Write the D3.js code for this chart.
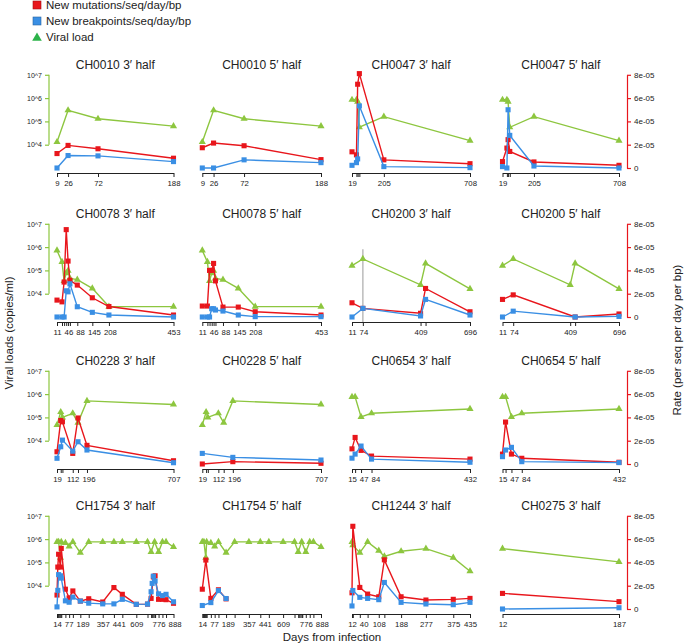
<!DOCTYPE html>
<html>
<head>
<meta charset="utf-8">
<script src="https://cdn.jsdelivr.net/npm/d3@7"></script>
<style>
body { margin: 0; background: #fff; }
text { font-family: "Liberation Sans", Arial, sans-serif; fill: #222; }
</style>
</head>
<body>
<div id="container"></div>
<script>
// viral loads (copies/ml) per patient, shared by both halves
const vl_CH0010 = [[9, 1.3e4], [26, 3.0e5], [72, 1.3e5], [188, 6.3e4]];
const vl_CH0047 = [[19, 8.5e5], [45, 8.5e5], [52, 7.0e5], [62, 5.6e4], [205, 1.6e5], [708, 1.5e4]];
const vl_CH0078 = [[11, 7.2e5], [30, 2.3e5], [38, 3.5e4], [46, 7.6e4], [53, 9.8e4], [60, 4.5e4], [88, 4.0e4], [145, 1.7e4], [208, 2.8e3], [453, 2.8e3]];
const vl_CH0200 = [[11, 1.6e5], [74, 3.1e5], [409, 2.4e4], [438, 2.0e5], [696, 1.6e4]];
const vl_CH0228 = [[19, 4.7e4], [41, 1.7e5], [51, 1.0e5], [112, 1.5e5], [143, 6.0e4], [196, 5.1e5], [707, 3.6e5]];
const vl_CH0654 = [[15, 7.6e5], [26, 7.6e5], [47, 1.05e5], [84, 1.5e5], [432, 2.3e5]];
const vl_CH1754 = [[14, 7.6e5], [26, 7.6e5], [40, 1.6e5], [46, 7.6e5], [77, 6.9e5], [105, 4.9e5], [133, 7.6e5], [189, 2.6e5], [252, 7.6e5], [357, 7.6e5], [441, 7.6e5], [504, 7.6e5], [609, 7.6e5], [693, 7.6e5], [720, 2.8e5], [746, 7.6e5], [776, 2.8e5], [805, 7.6e5], [832, 7.6e5], [888, 4.6e5]];
const vl_CH1244 = [[12, 7.6e5], [15, 5.5e5], [40, 2.6e5], [68, 7.6e5], [108, 3.2e5], [128, 1.8e5], [188, 3.0e5], [277, 3.9e5], [375, 1.6e5], [435, 4.2e4]];
const vl_CH0275 = [[12, 3.9e5], [187, 1.05e5]];

// new mutations / new breakpoints per seq per day per bp
const mut_CH0010_3 = [[9, 1.24e-5], [26, 1.94e-5], [72, 1.65e-5], [188, 0.84e-5]];
const bp_CH0010_3 = [[9, 0], [26, 1.07e-5], [72, 1.04e-5], [188, 0.55e-5]];
const mut_CH0010_5 = [[9, 1.74e-5], [26, 2.14e-5], [72, 1.91e-5], [188, 0.72e-5]];
const bp_CH0010_5 = [[9, 0], [26, 0], [72, 0.70e-5], [188, 0.46e-5]];

const mut_CH0047_3 = [[19, 1.39e-5], [45, 1.13e-5], [52, 7.19e-5], [62, 8.1e-5], [205, 0.70e-5], [708, 0.37e-5]];
const bp_CH0047_3 = [[19, 0.23e-5], [45, 0.46e-5], [52, 0.78e-5], [62, 5.33e-5], [205, 0.12e-5], [708, 0.03e-5]];
const mut_CH0047_5 = [[19, 0.55e-5], [45, 1.71e-5], [52, 2.43e-5], [62, 1.42e-5], [205, 0.52e-5], [708, 0.23e-5]];
const bp_CH0047_5 = [[19, 0.12e-5], [45, 0], [52, 5.0e-5], [62, 2.8e-5], [205, 0.17e-5], [708, 0]];

const mut_CH0078_3 = [[11, 1.45e-5], [30, 1.3e-5], [38, 3.0e-5], [46, 7.5e-5], [53, 4.8e-5], [60, 3.15e-5], [88, 2.74e-5], [145, 1.65e-5], [208, 0.9e-5], [453, 0.17e-5]];
const bp_CH0078_3 = [[11, 0], [30, 0], [38, 0], [46, 2.25e-5], [53, 2.16e-5], [60, 2.85e-5], [88, 0.88e-5], [145, 0.4e-5], [208, 0.17e-5], [453, 0]];
const mut_CH0078_5 = [[11, 0.94e-5], [30, 0.94e-5], [38, 4.0e-5], [46, 4.0e-5], [53, 4.6e-5], [60, 3.1e-5], [88, 0.85e-5], [145, 0.85e-5], [208, 0.45e-5], [453, 0.17e-5]];
const bp_CH0078_5 = [[11, 0], [30, 0], [38, 0], [46, 0.71e-5], [53, 0.71e-5], [60, 0.6e-5], [88, 0.51e-5], [145, 0.17e-5], [208, 0.03e-5], [453, 0.03e-5]];

const mut_CH0200_3 = [[11, 1.22e-5], [74, 0.74e-5], [409, 0.32e-5], [438, 2.45e-5], [696, 0.45e-5]];
const bp_CH0200_3 = [[11, 0], [74, 0.74e-5], [409, 0.09e-5], [438, 1.51e-5], [696, 0.17e-5]];
const mut_CH0200_5 = [[11, 1.51e-5], [74, 1.9e-5], [438, 0], [696, 0.26e-5]];
const bp_CH0200_5 = [[11, 0], [74, 0.5e-5], [438, 0], [696, 0.05e-5]];

const mut_CH0228_3 = [[19, 1.05e-5], [41, 3.73e-5], [51, 3.62e-5], [112, 0.91e-5], [143, 3.95e-5], [196, 1.6e-5], [707, 0.28e-5]];
const bp_CH0228_3 = [[19, 0.49e-5], [41, 1.48e-5], [51, 2.05e-5], [112, 1.1e-5], [143, 1.91e-5], [196, 1.2e-5], [707, 0.11e-5]];
const mut_CH0228_5 = [[19, 0], [196, 0.2e-5], [707, 0.06e-5]];
const bp_CH0228_5 = [[19, 0.91e-5], [196, 0.57e-5], [707, 0.34e-5]];

const mut_CH0654_3 = [[15, 1.3e-5], [26, 2.28e-5], [47, 1.17e-5], [84, 0.68e-5], [432, 0.42e-5]];
const bp_CH0654_3 = [[15, 0.5e-5], [26, 0.85e-5], [47, 1.54e-5], [84, 0.42e-5], [432, 0.15e-5]];
const mut_CH0654_5 = [[15, 0.85e-5], [26, 3.6e-5], [47, 0.85e-5], [84, 0.49e-5], [432, 0.15e-5]];
const bp_CH0654_5 = [[15, 0.63e-5], [26, 1.2e-5], [47, 1.43e-5], [84, 0.2e-5], [432, 0.12e-5]];

const mut_CH1754_3 = [[14, 1.2e-5], [20, 3.6e-5], [26, 4.7e-5], [40, 3.6e-5], [46, 5.2e-5], [77, 1.7e-5], [105, 0.95e-5], [133, 1.55e-5], [189, 0.68e-5], [252, 0.88e-5], [357, 0.6e-5], [441, 1.84e-5], [504, 1.26e-5], [609, 0.4e-5], [693, 0.42e-5], [720, 0.91e-5], [737, 2.75e-5], [750, 2.85e-5], [776, 0.83e-5], [805, 0.83e-5], [832, 0.8e-5], [888, 0.49e-5]];
const bp_CH1754_3 = [[14, 0.18e-5], [20, 1.6e-5], [26, 2.95e-5], [40, 2.85e-5], [46, 2.65e-5], [77, 0.7e-5], [105, 0.58e-5], [133, 1.02e-5], [189, 0.68e-5], [252, 0.5e-5], [357, 0.44e-5], [441, 0.44e-5], [504, 0.83e-5], [609, 0.4e-5], [693, 0.42e-5], [720, 1.48e-5], [728, 2.2e-5], [737, 2.82e-5], [750, 2.4e-5], [776, 1.3e-5], [805, 1.15e-5], [832, 1.26e-5], [888, 0.62e-5]];
const mut_CH1754_5 = [[14, 1.7e-5], [40, 4.2e-5], [77, 0.91e-5], [133, 1.65e-5], [189, 0.87e-5]];
const bp_CH1754_5 = [[14, 0.3e-5], [77, 0.55e-5], [133, 1.58e-5], [189, 0.9e-5]];

const mut_CH1244_3 = [[12, 1.39e-5], [15, 7.1e-5], [40, 1.85e-5], [68, 1.28e-5], [108, 1.05e-5], [128, 4.22e-5], [188, 1.05e-5], [277, 0.77e-5], [375, 0.83e-5], [435, 0.91e-5]];
const bp_CH1244_3 = [[12, 0.26e-5], [15, 1.59e-5], [40, 1.0e-5], [68, 0.91e-5], [108, 0.8e-5], [128, 2.28e-5], [188, 0.57e-5], [277, 0.43e-5], [375, 0.37e-5], [435, 0.57e-5]];

const mut_CH0275_3 = [[12, 1.34e-5], [187, 0.63e-5]];
const bp_CH0275_3 = [[12, 0], [187, 0.11e-5]];

// sampling days on the x axis, and the ones that got a label
const ticks_CH0010 = [9, 26, 72, 188];
const labels_CH0010 = [9, 26, 72, 188];
const ticks_CH0047 = [19, 45, 52, 62, 205, 708];
const labels_CH0047 = [19, 205, 708];
const ticks_CH0078 = [11, 30, 38, 46, 53, 60, 88, 145, 208, 453];
const labels_CH0078 = [11, 46, 88, 145, 208, 453];
const ticks_CH0200 = [11, 74, 409, 438, 696];
const labels_CH0200 = [11, 74, 409, 696];
const ticks_CH0228 = [19, 41, 51, 112, 143, 196, 707];
const labels_CH0228 = [19, 112, 196, 707];
const ticks_CH0654 = [15, 26, 47, 84, 432];
const labels_CH0654 = [15, 47, 84, 432];
const ticks_CH1754 = [14, 20, 26, 33, 40, 46, 77, 105, 133, 189, 252, 357, 441, 504, 609, 693, 720, 728, 737, 746, 750, 776, 805, 832, 888];
const labels_CH1754 = [14, 77, 189, 357, 441, 609, 776, 888];
const ticks_CH1244 = [12, 15, 40, 68, 108, 128, 188, 277, 375, 435];
const labels_CH1244 = [12, 40, 108, 188, 277, 375, 435];
const ticks_CH0275 = [12, 187];
const labels_CH0275 = [12, 187];

const ch0200Marker = 74;   // grey vertical line in CH0200 3' half
const vlTicks = [1e4, 1e5, 1e6, 1e7];
const rateTicks = [0, 2e-5, 4e-5, 6e-5, 8e-5];

const panels = [
	{ title: 'CH0010 3\u2032 half', vl: vl_CH0010, mut: mut_CH0010_3, bp: bp_CH0010_3, ticks: ticks_CH0010, labels: labels_CH0010 },
	{ title: 'CH0010 5\u2032 half', vl: vl_CH0010, mut: mut_CH0010_5, bp: bp_CH0010_5, ticks: ticks_CH0010, labels: labels_CH0010 },
	{ title: 'CH0047 3\u2032 half', vl: vl_CH0047, mut: mut_CH0047_3, bp: bp_CH0047_3, ticks: ticks_CH0047, labels: labels_CH0047 },
	{ title: 'CH0047 5\u2032 half', vl: vl_CH0047, mut: mut_CH0047_5, bp: bp_CH0047_5, ticks: ticks_CH0047, labels: labels_CH0047 },
	{ title: 'CH0078 3\u2032 half', vl: vl_CH0078, mut: mut_CH0078_3, bp: bp_CH0078_3, ticks: ticks_CH0078, labels: labels_CH0078 },
	{ title: 'CH0078 5\u2032 half', vl: vl_CH0078, mut: mut_CH0078_5, bp: bp_CH0078_5, ticks: ticks_CH0078, labels: labels_CH0078 },
	{ title: 'CH0200 3\u2032 half', vl: vl_CH0200, mut: mut_CH0200_3, bp: bp_CH0200_3, ticks: ticks_CH0200, labels: labels_CH0200, marker: ch0200Marker },
	{ title: 'CH0200 5\u2032 half', vl: vl_CH0200, mut: mut_CH0200_5, bp: bp_CH0200_5, ticks: ticks_CH0200, labels: labels_CH0200 },
	{ title: 'CH0228 3\u2032 half', vl: vl_CH0228, mut: mut_CH0228_3, bp: bp_CH0228_3, ticks: ticks_CH0228, labels: labels_CH0228 },
	{ title: 'CH0228 5\u2032 half', vl: vl_CH0228, mut: mut_CH0228_5, bp: bp_CH0228_5, ticks: ticks_CH0228, labels: labels_CH0228 },
	{ title: 'CH0654 3\u2032 half', vl: vl_CH0654, mut: mut_CH0654_3, bp: bp_CH0654_3, ticks: ticks_CH0654, labels: labels_CH0654 },
	{ title: 'CH0654 5\u2032 half', vl: vl_CH0654, mut: mut_CH0654_5, bp: bp_CH0654_5, ticks: ticks_CH0654, labels: labels_CH0654 },
	{ title: 'CH1754 3\u2032 half', vl: vl_CH1754, mut: mut_CH1754_3, bp: bp_CH1754_3, ticks: ticks_CH1754, labels: labels_CH1754 },
	{ title: 'CH1754 5\u2032 half', vl: vl_CH1754, mut: mut_CH1754_5, bp: bp_CH1754_5, ticks: ticks_CH1754, labels: labels_CH1754 },
	{ title: 'CH1244 3\u2032 half', vl: vl_CH1244, mut: mut_CH1244_3, bp: bp_CH1244_3, ticks: ticks_CH1244, labels: labels_CH1244 },
	{ title: 'CH0275 3\u2032 half', vl: vl_CH0275, mut: mut_CH0275_3, bp: bp_CH0275_3, ticks: ticks_CH0275, labels: labels_CH0275 }
];

const width = 685, height = 644;
const red = '#e8161c', blue = '#3a8fe4', green = '#8dc63f';
const colX = [[57, 173.5], [202.3, 321], [352, 470], [502.5, 619]];
const rowBase = [168, 317, 464, 609];
const decade = 23.3;
const fontFamily = '"Liberation Sans", Arial, sans-serif';

const svg = d3.select('#container')
	.append('svg')
	.attr('width', width)
	.attr('height', height);

const square = d3.symbol().type(d3.symbolSquare).size(26);
const triangle = d3.symbol().type(d3.symbolTriangle).size(22);

panels.forEach((p, i) => {
	const r = Math.floor(i / 4), c = i % 4;
	const base = rowBase[r], top = base - 4 * decade;
	const [x0, x1] = colX[c];
	const x = d3.scaleLinear().domain(d3.extent(p.ticks)).range([x0, x1]);
	const yRate = d3.scaleLinear().domain([0, 8e-5]).range([base, top]);
	const yVl = d3.scaleLog().domain([1e3, 1e7]).range([base, top]);
	const g = svg.append('g');

	g.append('text')
		.attr('x', (x0 + x1) / 2)
		.attr('y', base - 99)
		.attr('text-anchor', 'middle')
		.attr('font-size', 12)
		.text(p.title);

	// x axis: a tick for every sample, labels only on some
	const ax = g.append('g')
		.attr('transform', `translate(0,${base + 5})`)
		.call(d3.axisBottom(x)
			.tickValues(p.ticks)
			.tickSize(4)
			.tickSizeOuter(0)
			.tickPadding(3)
			.tickFormat(d => p.labels.includes(d) ? d : ''));
	ax.selectAll('path, line').attr('stroke', '#222');
	ax.selectAll('text').attr('font-size', 7.8).style('font-family', fontFamily).attr('fill', '#222');

	// push crowded labels apart
	let prevRight = -Infinity;
	ax.selectAll('.tick text')
		.filter(d => p.labels.includes(d))
		.each(function (d) {
			const w = this.getComputedTextLength();
			const cx = x(d);
			const shift = Math.max(0, prevRight + 3 - (cx - w / 2));
			d3.select(this).attr('dx', shift);
			prevRight = cx + shift + w / 2;
		});

	if (c === 0) {
		const ly = g.append('g')
			.attr('transform', 'translate(49,0)')
			.call(d3.axisLeft(yVl)
				.tickValues(vlTicks)
				.tickSize(4)
				.tickSizeOuter(0)
				.tickPadding(3)
				.tickFormat(d => '10^' + Math.round(Math.log10(d))));
		ly.select('.domain').attr('d', `M0,${yVl(1e4)}V${yVl(1e7)}`);
		ly.selectAll('path, line').attr('stroke', green).attr('stroke-width', 1.2);
		ly.selectAll('text').attr('font-size', 7).style('font-family', fontFamily).attr('fill', '#222');
	}
	if (c === 3) {
		const ry = g.append('g')
			.attr('transform', 'translate(627,0)')
			.call(d3.axisRight(yRate)
				.tickValues(rateTicks)
				.tickSize(4)
				.tickSizeOuter(0)
				.tickPadding(3)
				.tickFormat(d => d === 0 ? '0' : Math.round(d / 1e-5) + 'e-05'));
		ry.selectAll('path, line').attr('stroke', red).attr('stroke-width', 1.2);
		ry.selectAll('text').attr('font-size', 8).style('font-family', fontFamily).attr('fill', '#222');
	}

	if (p.marker !== undefined) {
		g.append('line')
			.attr('x1', x(p.marker)).attr('x2', x(p.marker))
			.attr('y1', base + 5).attr('y2', yVl(8e5))
			.attr('stroke', '#bbb')
			.attr('stroke-width', 1.5);
	}

	const vlLine = d3.line().x(d => x(d[0])).y(d => yVl(d[1]));
	const rateLine = d3.line().x(d => x(d[0])).y(d => yRate(d[1]));

	g.append('path').datum(p.vl)
		.attr('fill', 'none').attr('stroke', green).attr('stroke-width', 1.4)
		.attr('d', vlLine);
	g.selectAll('.vlpt').data(p.vl).join('path')
		.attr('transform', d => `translate(${x(d[0])},${yVl(d[1])})`)
		.attr('d', triangle).attr('fill', green);

	g.append('path').datum(p.mut)
		.attr('fill', 'none').attr('stroke', red).attr('stroke-width', 1.4)
		.attr('d', rateLine);
	g.selectAll('.mutpt').data(p.mut).join('path')
		.attr('transform', d => `translate(${x(d[0])},${yRate(d[1])})`)
		.attr('d', square).attr('fill', red);

	g.append('path').datum(p.bp)
		.attr('fill', 'none').attr('stroke', blue).attr('stroke-width', 1.4)
		.attr('d', rateLine);
	g.selectAll('.bppt').data(p.bp).join('path')
		.attr('transform', d => `translate(${x(d[0])},${yRate(d[1])})`)
		.attr('d', square).attr('fill', blue);
});

// legend
const legend = [
	{ label: 'New mutations/seq/day/bp', color: red, shape: 'square' },
	{ label: 'New breakpoints/seq/day/bp', color: blue, shape: 'square' },
	{ label: 'Viral load', color: '#2db34a', shape: 'triangle' }
];
const lg = svg.append('g');
legend.forEach((l, i) => {
	const cy = 5 + i * 16;
	if (l.shape === 'square') {
		lg.append('rect')
			.attr('x', 33).attr('y', cy - 4).attr('width', 8).attr('height', 8)
			.attr('fill', l.color).attr('stroke', d3.color(l.color).darker(1)).attr('stroke-width', 0.6);
	} else {
		lg.append('path')
			.attr('transform', `translate(37,${cy + 1})`)
			.attr('d', d3.symbol().type(d3.symbolTriangle).size(40))
			.attr('fill', l.color);
	}
	lg.append('text')
		.attr('x', 46).attr('y', cy + 4)
		.attr('font-size', 11.5)
		.text(l.label);
});

// axis titles
svg.append('text')
	.attr('transform', 'translate(13,333) rotate(-90)')
	.attr('text-anchor', 'middle')
	.attr('font-size', 11.5)
	.text('Viral loads (copies/ml)');
svg.append('text')
	.attr('transform', 'translate(681,340) rotate(-90)')
	.attr('text-anchor', 'middle')
	.attr('font-size', 11.5)
	.text('Rate (per seq per day per bp)');
svg.append('text')
	.attr('x', 332).attr('y', 641)
	.attr('text-anchor', 'middle')
	.attr('font-size', 11.5)
	.text('Days from infection');
</script>
</body>
</html>
